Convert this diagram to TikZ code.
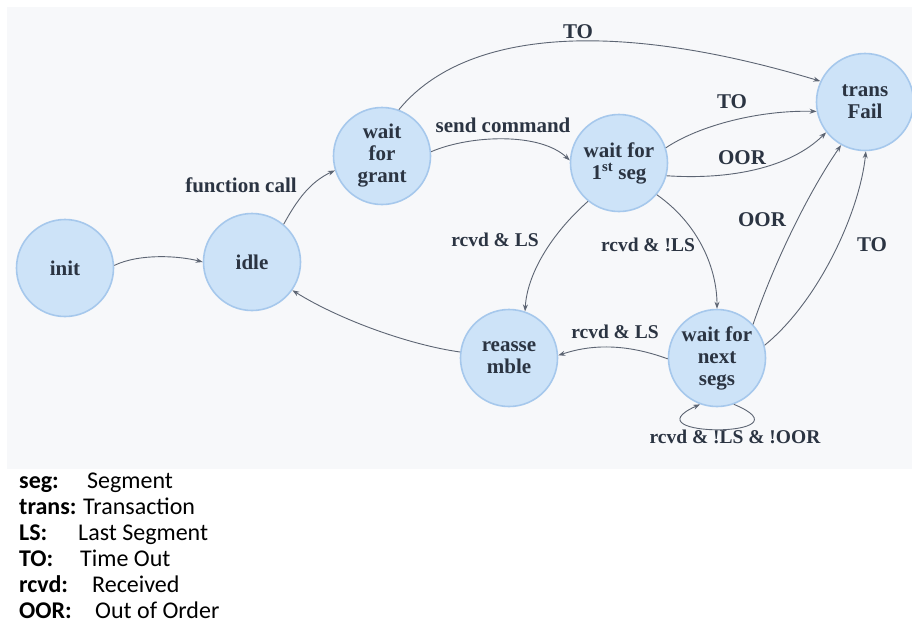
\documentclass[tikz,border=0pt]{standalone}
\usepackage{fontspec}
\usetikzlibrary{arrows.meta}
\newfontfamily\diagfont{Liberation Serif}
\newfontfamily\legfont{Carlito}
\definecolor{bgc}{HTML}{F7F8FA}
\definecolor{nodefill}{HTML}{CDE3F8}
\definecolor{nodeline}{HTML}{A6C8EC}
\definecolor{txt}{HTML}{2B3442}
\definecolor{edgec}{HTML}{5D6573}
\tikzset{
  state/.style={circle, minimum size=97pt, inner sep=0pt, fill=nodefill, draw=nodeline, line width=1.6pt,
    text=txt, align=center, font=\diagfont\bfseries\fontsize{21}{22}\selectfont},
  lbl/.style={text=txt, inner sep=1pt, font=\diagfont\bfseries\fontsize{21}{22}\selectfont},
  smalllbl/.style={lbl, font=\diagfont\bfseries\fontsize{19.5}{22}\selectfont},
  edge/.style={draw=edgec, line width=0.9pt, -{Stealth[length=7pt,width=5pt]}},
  legkey/.style={anchor=base west, inner sep=0pt, text=black, font=\legfont\bfseries\fontsize{24}{26}\selectfont},
  legval/.style={anchor=base west, inner sep=0pt, text=black, font=\legfont\fontsize{24}{26}\selectfont}
}
\begin{document}
\begin{tikzpicture}[x=1pt,y=-1pt]
\useasboundingbox (0,0) rectangle (912,633);
\fill[white] (0,0) rectangle (912,633);
\fill[bgc] (7,7) rectangle (912,469);

% states
\node[state] (init) at (65,268) {init};
\node[state] (idle) at (252,262) {idle};
\node[state] (wfg) at (382,156) {wait\\for\\grant};
\node[state] (wf1) at (619,163) {wait for\\1\textsuperscript{st} seg};
\node[state] (tf) at (865,102) {trans\\Fail};
\node[state] (ras) at (509,358) {reasse\\mble};
\node[state] (wfn) at (717,358) {wait for\\next\\segs};

% connectors
\draw[edge] (init.3) .. controls (140,253) and (180,256) .. (idle.180);
\draw[edge] (idle.50) .. controls (297,200) and (310,182) .. (wfg.197);
\draw[edge] (wfg.5) .. controls (470,135) and (540,132) .. (wf1.177);
\draw[edge] (wfg.70) .. controls (460,35) and (600,15) .. (tf.155);
\draw[edge] (wf1.18) .. controls (700,125) and (760,110) .. (tf.191);
\draw[edge] (wf1.-15) .. controls (730,180) and (790,168) .. (tf.218);
\draw[edge] (wf1.-129) .. controls (550,235) and (527,275) .. (ras.71);
\draw[edge] (wf1.-40) .. controls (700,225) and (717,270) .. (wfn.90);
\draw[edge] (wfn.43) .. controls (775,260) and (810,190) .. (tf.241);
\draw[edge] (wfn.15) .. controls (820,300) and (860,210) .. (tf.271);
\draw[edge] (wfn.181) .. controls (630,345) and (595,343) .. (ras.3);
\draw[edge] (ras.173) .. controls (410,345) and (340,320) .. (idle.-35);
\draw[edge] (wfn.-70) .. controls (815,438) and (625,438) .. (wfn.-110);

% edge labels
\node[lbl] (lfc) at (241,185) {function call};
\node[lbl] (lsc) at (503,125) {send command};
\node[lbl] (lto1) at (578,32) {TO};
\node[lbl] (lto2) at (732,102) {TO};
\node[lbl] (loor1) at (742,158) {OOR};
\node[smalllbl] (lrls1) at (495,240) {rcvd \& LS};
\node[smalllbl] (lrnls) at (648,245) {rcvd \& !LS};
\node[lbl] (loor2) at (762,220) {OOR};
\node[lbl] (lto3) at (872,245) {TO};
\node[smalllbl] (lrls2) at (615,332) {rcvd \& LS};
\node[smalllbl] (lloop) at (735,437) {rcvd \& !LS \& !OOR};

% legend
\node[legkey] (k1) at (19,488) {seg:};
\node[legval] (v1) at (87,488) {Segment};
\node[legkey] (k2) at (19,514) {trans:};
\node[legval] (v2) at (83,514) {Transaction};
\node[legkey] (k3) at (19,540) {LS:};
\node[legval] (v3) at (78,540) {Last Segment};
\node[legkey] (k4) at (19,566) {TO:};
\node[legval] (v4) at (80,566) {Time Out};
\node[legkey] (k5) at (19,592) {rcvd:};
\node[legval] (v5) at (92,592) {Received};
\node[legkey] (k6) at (19,618) {OOR:};
\node[legval] (v6) at (95,618) {Out of Order};
\end{tikzpicture}
\end{document}
